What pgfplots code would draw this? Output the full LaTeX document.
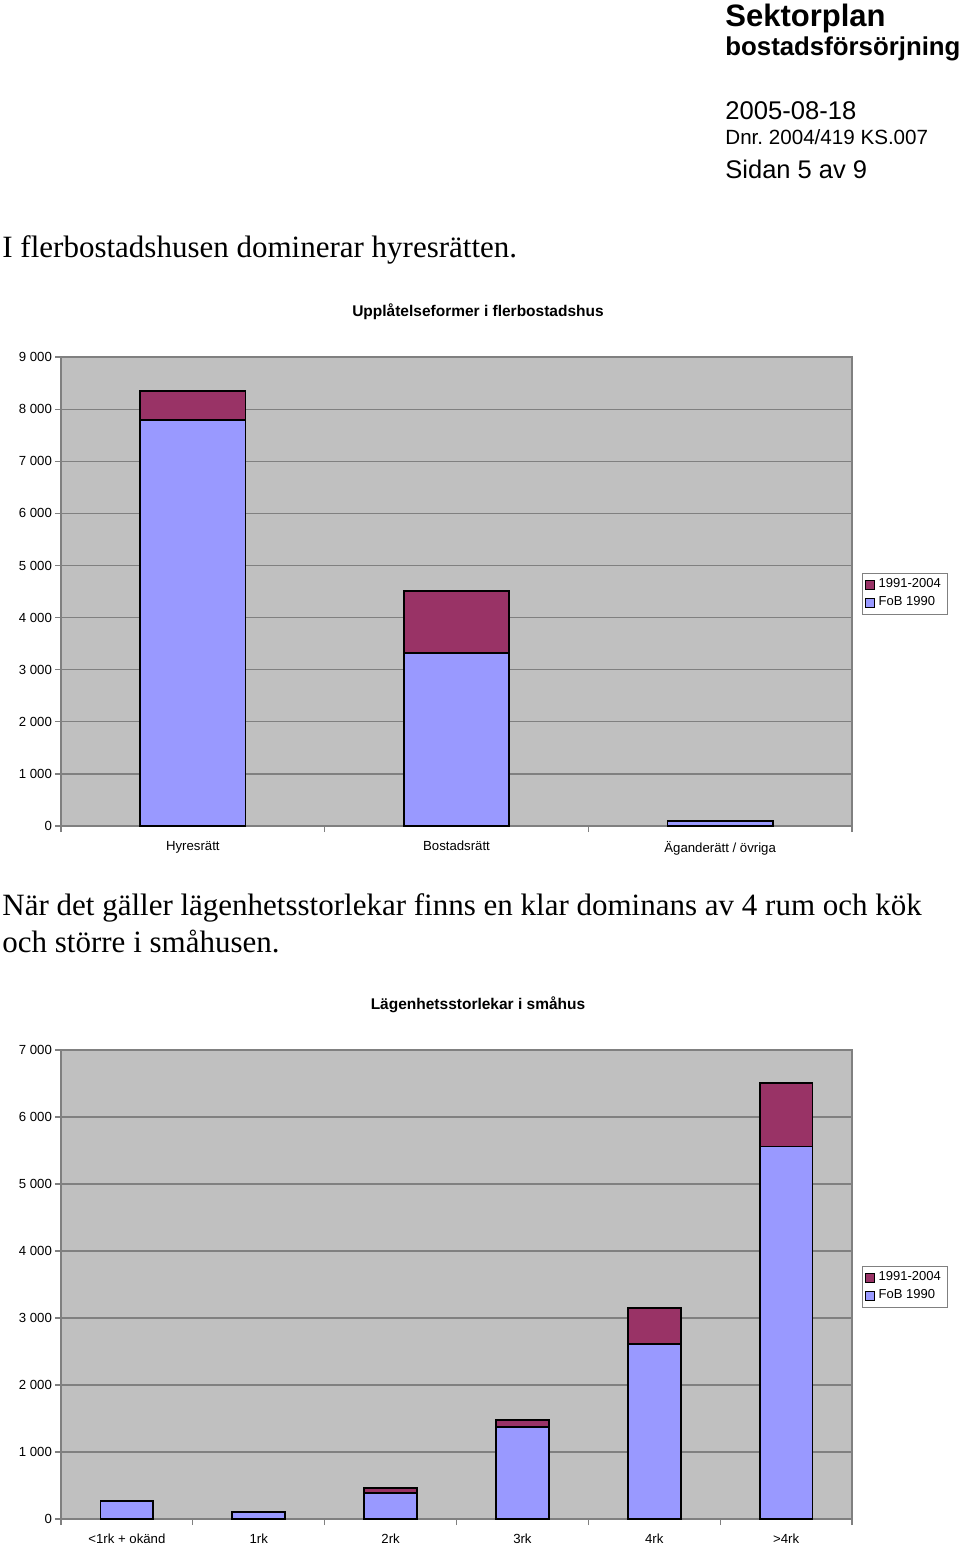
\documentclass[border=0pt]{standalone}
\usepackage{fontspec}
\setmainfont{Liberation Sans}
\newfontfamily\timesfont{Liberation Serif}
\usepackage{pgfplots}
\pgfplotsset{compat=1.18}
\frenchspacing

\definecolor{fob}{RGB}{153,153,255}
\definecolor{nyb}{RGB}{153,51,102}
\definecolor{plotbg}{RGB}{192,192,192}
\definecolor{gridc}{RGB}{128,128,128}

\pgfplotsset{
  excel/.style={
    width=395.5pt, height=234.5pt, scale only axis,
    axis background/.style={fill=plotbg},
    axis line style={gridc, line width=0.6pt},
    ymajorgrids, grid style={gridc, line width=0.6pt},
    ymin=0,
    tick align=outside, xtick pos=left, ytick pos=left,
    major tick length=3pt,
    tick style={gridc, line width=0.6pt},
    ybar stacked, bar width=0.4,
    every axis plot/.append style={draw=black, line width=0.9pt},
    ticklabel style={font=\fontsize{6.6}{7}\selectfont},
    yticklabel style={xshift=2pt, /pgf/number format/fixed, /pgf/number format/1000 sep={\ }},
    /pgf/number format/assume math mode=true,
    x tick label as interval,
    xticklabel style={yshift=-1pt},
    reverse legend,
    legend image code/.code={\draw[#1, draw=black, line width=0.5pt] (0pt,-2.2pt) rectangle (4.4pt,2.2pt);},
    legend style={at={(1.0126,0.5394)}, anchor=north west, draw=gridc, line width=0.5pt,
      font=\fontsize{6.5}{7.2}\selectfont, inner xsep=1.2pt, inner ysep=0.6pt, row sep=-1pt,
      /tikz/every even column/.append style={column sep=0pt}},
    legend cell align=left,
  }
}

\begin{document}
\begin{tikzpicture}[x=0.5pt, y=-0.5pt]
\path[use as bounding box] (0,0) rectangle (960,1547);
\coordinate (c1) at (61,826);
\coordinate (c2) at (61,1519);

% header
\node[anchor=base west, inner sep=0, font=\bfseries\fontsize{15.5}{16}\selectfont] at (725,26) {Sektorplan};
\node[anchor=base west, inner sep=0, font=\bfseries\fontsize{12.9}{14}\selectfont] at (725,55) {bostadsförsörjning};
\node[anchor=base west, inner sep=0, font=\fontsize{12.8}{14}\selectfont] at (725,119) {2005-08-18};
\node[anchor=base west, inner sep=0, font=\fontsize{10.3}{12}\selectfont] at (725,144) {Dnr. 2004/419 KS.007};
\node[anchor=base west, inner sep=0, font=\fontsize{12.75}{14}\selectfont] at (725,178) {Sidan 5 av 9};

% body text
\node[anchor=base west, inner sep=0, font=\timesfont\fontsize{15.5}{17}\selectfont] at (2,257) {I flerbostadshusen dominerar hyresrätten.};
\node[anchor=base west, inner sep=0, font=\timesfont\fontsize{15.5}{17}\selectfont] at (2,915) {När det gäller lägenhetsstorlekar finns en klar dominans av 4 rum och kök};
\node[anchor=base west, inner sep=0, font=\timesfont\fontsize{15.5}{17}\selectfont] at (2,952) {och större i småhusen.};

% chart titles
\node[anchor=base, inner sep=0, font=\bfseries\fontsize{7.75}{9}\selectfont] at (478,316) {Upplåtelseformer i flerbostadshus};
\node[anchor=base, inner sep=0, font=\bfseries\fontsize{7.75}{9}\selectfont] at (478,1009) {Lägenhetsstorlekar i småhus};

% chart 1
\begin{axis}[excel, at={(c1)}, anchor=south west,
  xmin=-0.5, xmax=2.5, ymax=9000,
  ytick={0,1000,...,9000},
  xtick={-0.5,0.5,1.5,2.5},
  xticklabels={Hyresrätt,Bostadsrätt,Äganderätt / övriga,},
]
\addplot[fill=fob] coordinates {(0,7790) (1,3320) (2,90)};
\addplot[fill=nyb] coordinates {(0,560) (1,1190) (2,0)};
\legend{FoB 1990,1991-2004}
\end{axis}

% chart 2
\begin{axis}[excel, at={(c2)}, anchor=south west,
  xmin=-0.5, xmax=5.5, ymax=7000,
  ytick={0,1000,...,7000},
  xtick={-0.5,0.5,1.5,2.5,3.5,4.5,5.5},
  xticklabels={<1rk + okänd,1rk,2rk,3rk,4rk,>4rk,},
]
\addplot[fill=fob] coordinates {(0,273) (1,104) (2,390) (3,1370) (4,2610) (5,5560)};
\addplot[fill=nyb] coordinates {(0,0) (1,0) (2,77) (3,110) (4,535) (5,950)};
\legend{FoB 1990,1991-2004}
\end{axis}
\end{tikzpicture}
\end{document}
